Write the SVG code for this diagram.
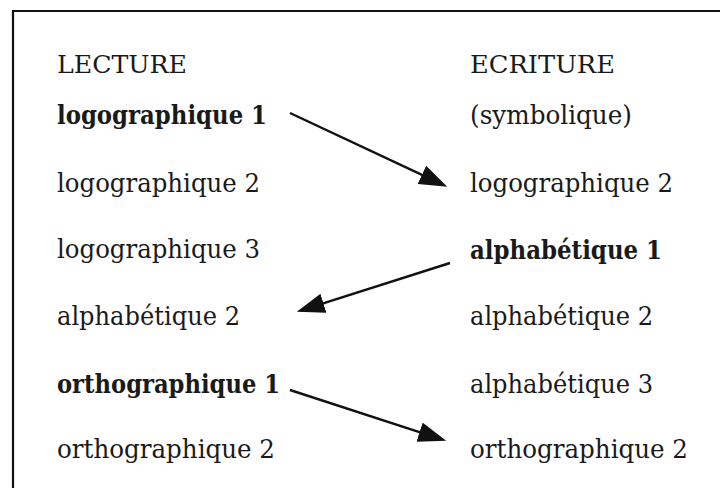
<svg xmlns="http://www.w3.org/2000/svg" width="720" height="488" viewBox="0 0 720 488">
<style>
text{font-family:"DejaVu Serif","Liberation Serif",serif;font-size:26.5px;fill:#1a1a1a}
.h{font-size:24px}
.b{font-weight:bold}
.c{stroke:#111;stroke-width:2.4;fill:none}
.frame{stroke:#111;stroke-width:2.2;fill:none}
</style>
<defs>
<marker id="ah" viewBox="0 0 28 20" refX="16" refY="10" markerWidth="28" markerHeight="20" markerUnits="userSpaceOnUse" orient="auto">
<path d="M0,0 L28,10 L0,20 Z" fill="#111"/>
</marker>
</defs>
<rect width="720" height="488" fill="#fff"/>
<path class="frame" d="M13,488 L13,11 L720,11"/>
<g id="h-lecture"><text class="h" x="57" y="73" textLength="130" lengthAdjust="spacingAndGlyphs">LECTURE</text></g>
<g id="h-ecriture"><text class="h" x="470" y="73" textLength="145" lengthAdjust="spacingAndGlyphs">ECRITURE</text></g>
<g id="l-logo1"><text class="b" x="57" y="124" textLength="210" lengthAdjust="spacingAndGlyphs">logographique 1</text></g>
<g id="l-logo2"><text x="57" y="192" textLength="203" lengthAdjust="spacingAndGlyphs">logographique 2</text></g>
<g id="l-logo3"><text x="57" y="258" textLength="203" lengthAdjust="spacingAndGlyphs">logographique 3</text></g>
<g id="l-alpha2"><text x="57" y="325" textLength="183" lengthAdjust="spacingAndGlyphs">alphabétique 2</text></g>
<g id="l-ortho1"><text class="b" x="57" y="393" textLength="223" lengthAdjust="spacingAndGlyphs">orthographique 1</text></g>
<g id="l-ortho2"><text x="57" y="458" textLength="218" lengthAdjust="spacingAndGlyphs">orthographique 2</text></g>
<g id="r-symb"><text x="470" y="124" textLength="162" lengthAdjust="spacingAndGlyphs">(symbolique)</text></g>
<g id="r-logo2"><text x="470" y="192" textLength="203" lengthAdjust="spacingAndGlyphs">logographique 2</text></g>
<g id="r-alpha1"><text class="b" x="470" y="259" textLength="192" lengthAdjust="spacingAndGlyphs">alphabétique 1</text></g>
<g id="r-alpha2"><text x="470" y="325" textLength="183" lengthAdjust="spacingAndGlyphs">alphabétique 2</text></g>
<g id="r-alpha3"><text x="470" y="393" textLength="183" lengthAdjust="spacingAndGlyphs">alphabétique 3</text></g>
<g id="r-ortho2"><text x="470" y="458" textLength="218" lengthAdjust="spacingAndGlyphs">orthographique 2</text></g>
<g id="connectors">
<line class="c" x1="290" y1="113" x2="436.4" y2="181.6" marker-end="url(#ah)"/>
<line class="c" x1="450" y1="263" x2="308.2" y2="308.2" marker-end="url(#ah)"/>
<line class="c" x1="290" y1="390" x2="434.8" y2="437.1" marker-end="url(#ah)"/>
</g>
</svg>
